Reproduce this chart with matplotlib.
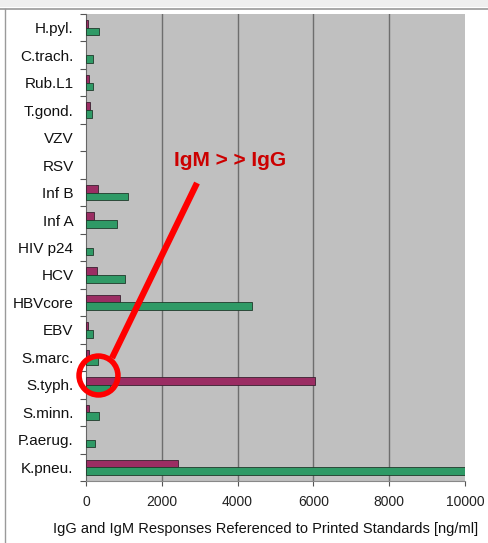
import matplotlib
matplotlib.use("Agg")
import matplotlib.pyplot as plt
from matplotlib.patches import Rectangle
from matplotlib.lines import Line2D
import numpy as np

categories = ["H.pyl.", "C.trach.", "Rub.L1", "T.gond.", "VZV", "RSV", "Inf B", "Inf A",
              "HIV p24", "HCV", "HBVcore", "EBV", "S.marc.", "S.typh.", "S.minn.",
              "P.aerug.", "K.pneu."]
igm = [50, 0, 85, 115, 0, 0, 320, 210, 0, 290, 900, 50, 90, 6030, 70, 0, 2430]
igg = [345, 185, 180, 150, 0, 0, 1100, 820, 195, 1020, 4390, 175, 325, 630, 345, 230, 10000]
xticks = [0, 2000, 4000, 6000, 8000, 10000]
xlabel = "IgG and IgM Responses Referenced to Printed Standards [ng/ml]"
note = "IgM > > IgG"

W, H = 488, 543
fig = plt.figure(figsize=(W / 100, H / 100), dpi=100)
fig.patch.set_facecolor("white")
plt.rcParams['font.family'] = ['Liberation Sans', 'DejaVu Sans']

# frame decorations
fig.patches.append(Rectangle((0, 1 - 7 / H), 1, 7 / H, transform=fig.transFigure,
                             facecolor="#efefef", edgecolor="none", zorder=0))
fig.lines.append(Line2D([0, 1], [1 - 8.5 / H] * 2, transform=fig.transFigure,
                        color="#9a9a9a", lw=1.2))
fig.lines.append(Line2D([4.5 / W] * 2, [0, 1 - 8.5 / H], transform=fig.transFigure,
                        color="#9a9a9a", lw=1.0))

left, right, top, bottom = 86, 465, 14, 481
ax = fig.add_axes([left / W, 1 - bottom / H, (right - left) / W, (bottom - top) / H])
ax.set_facecolor("#c0c0c0")

y = np.arange(len(categories))
h = 0.28
lw_m = [0.6 if v > 0 else 0 for v in igm]
lw_g = [0.6 if v > 0 else 0 for v in igg]
ax.barh(y - h / 2, igm, height=h, color="#9b2d63", edgecolor="#3a2030", linewidth=lw_m, zorder=3)
ax.barh(y + h / 2, igg, height=h, color="#2f9a66", edgecolor="#1f3a2a", linewidth=lw_g, zorder=3)

ax.set_xlim(0, 10000)
ax.set_ylim(len(categories) - 0.5, -0.5)
ax.set_xticks(xticks)
ax.set_xticklabels([str(t) for t in xticks], fontsize=10, color="#222222")
ax.set_yticks(y)
ax.set_yticklabels(categories, fontsize=11, color="#111111")
ax.set_yticks(np.arange(-0.5, len(categories), 1), minor=True)
ax.tick_params(axis="y", which="major", length=0, pad=9)
ax.tick_params(axis="y", which="minor", length=4, width=0.8, color="#555555", direction="out")
ax.tick_params(axis="x", which="major", length=3.6, width=0.8, color="#555555", pad=6.5)

for xv in xticks[1:-1]:
    ax.axvline(xv, color="#6e6e6e", lw=1.0, zorder=1)

for s in ["top", "right"]:
    ax.spines[s].set_visible(False)
ax.spines["left"].set_color("#666666")
ax.spines["bottom"].set_color("#888888")
ax.spines["left"].set_linewidth(0.8)
ax.spines["bottom"].set_linewidth(0.8)

fig.text(266 / W, 1 - 529 / H, xlabel, fontsize=10.5, ha="center", va="center", color="#111111")

# annotation (in pixel-derived data coordinates)
def px2data(px, py):
    return ((px - left) / (right - left) * 10000,
            (py - top) / (bottom - top) * len(categories) - 0.5)

tx, ty = px2data(230, 160)
ax.text(tx, ty, note, fontsize=15, fontweight="bold", color="#cc0000",
        ha="center", va="center", zorder=6)
x0, y0 = px2data(197, 183)
x1, y1 = px2data(112, 358)
ax.plot([x0, x1], [y0, y1], color="#ff0000", lw=4.5, solid_capstyle="butt", zorder=6, clip_on=False)
cx, cy = px2data(98, 375)
ax.plot([cx], [cy], marker="o", markersize=28, markerfacecolor="none",
        markeredgecolor="#ff0000", markeredgewidth=4, zorder=6, clip_on=False)

fig.savefig("out.png", dpi=100)
